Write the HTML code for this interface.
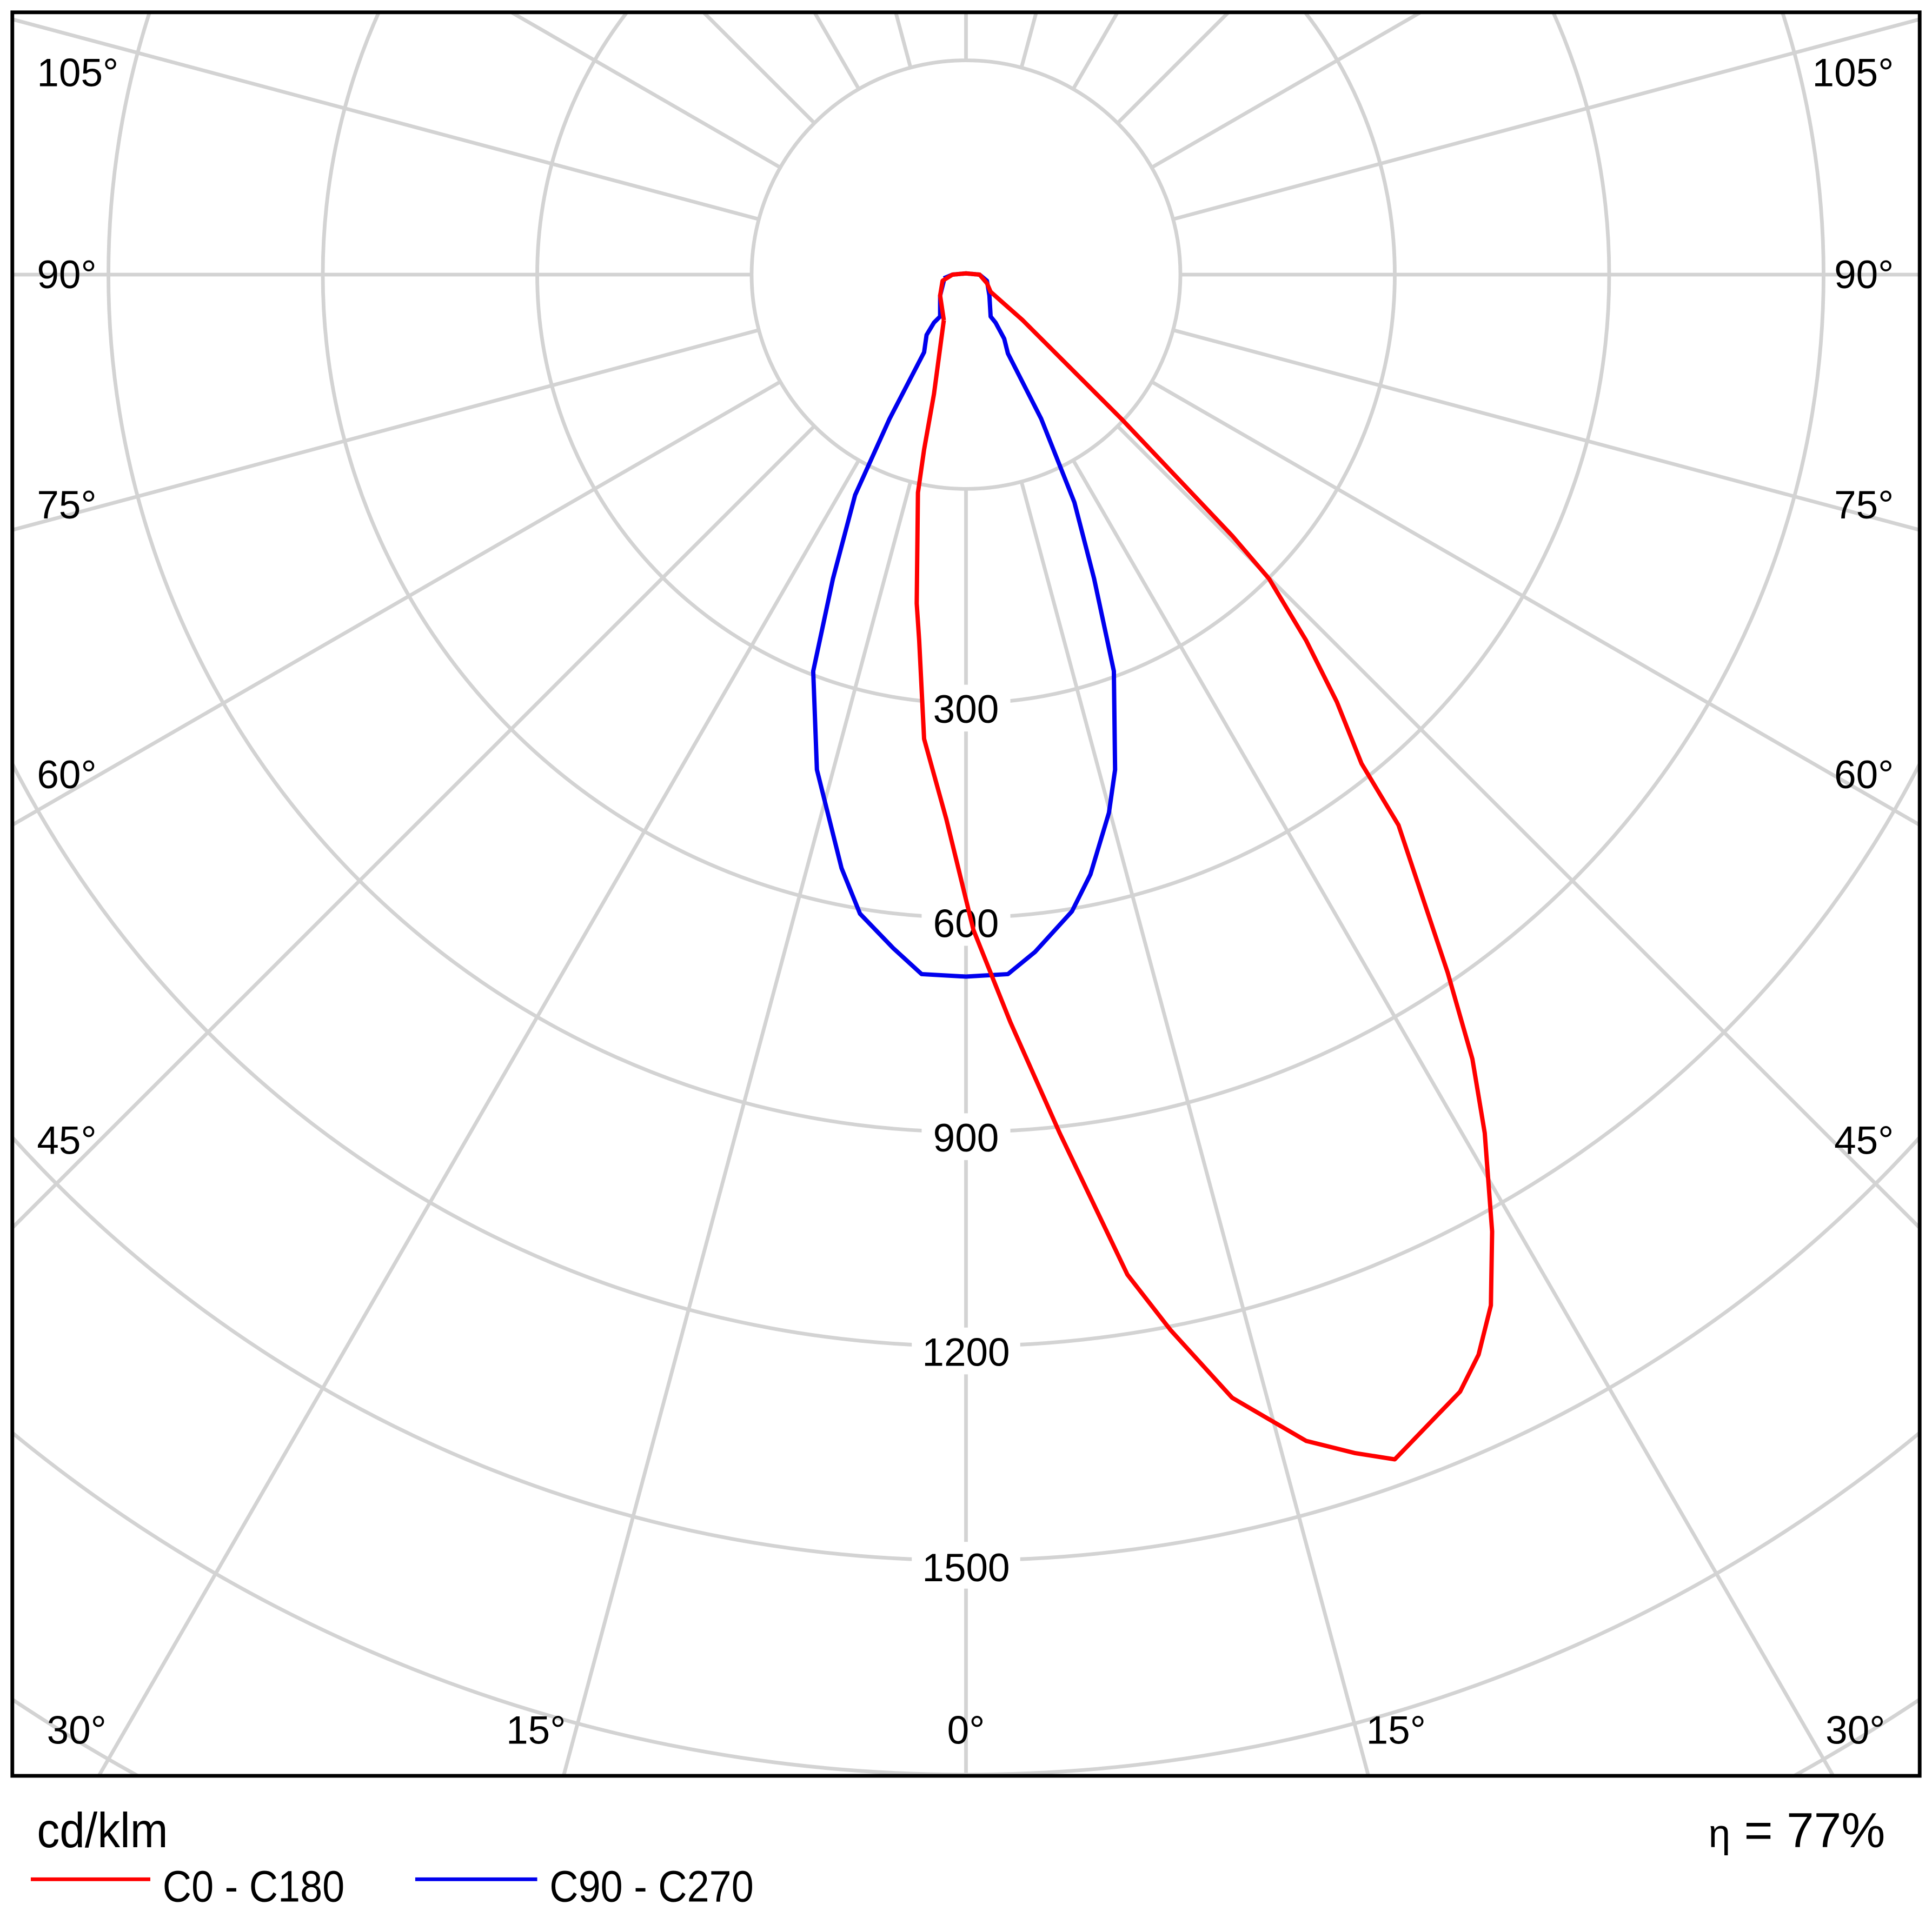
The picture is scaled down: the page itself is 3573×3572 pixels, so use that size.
<!DOCTYPE html>
<html><head><meta charset="utf-8"><style>
html,body{margin:0;padding:0;background:#fff;overflow:hidden;width:3573px;height:3572px;position:relative}
svg{display:block;position:absolute;left:0;top:0}
text{font-family:"Liberation Sans",sans-serif;fill:#000}
</style></head><body>
<svg width="3573" height="3572" viewBox="0 0 1568 1568" preserveAspectRatio="none" xmlns="http://www.w3.org/2000/svg">
<defs><clipPath id="c"><rect x="10" y="10" width="1548" height="1432"/></clipPath></defs>
<rect width="1568" height="1568" fill="#fff"/>
<g clip-path="url(#c)" stroke="#d3d3d3" stroke-width="3" fill="none">
<circle cx="784" cy="223" r="174"/>
<circle cx="784" cy="223" r="348"/>
<circle cx="784" cy="223" r="522"/>
<circle cx="784" cy="223" r="696"/>
<circle cx="784" cy="223" r="870"/>
<circle cx="784" cy="223" r="1044"/>
<circle cx="784" cy="223" r="1218"/>
<circle cx="784" cy="223" r="1392"/>
<circle cx="784" cy="223" r="1566"/>
<circle cx="784" cy="223" r="1740"/>
<line x1="784" y1="397" x2="784" y2="2223"/>
<line x1="829.0" y1="391.1" x2="1301.6" y2="2154.8"/>
<line x1="871.0" y1="373.7" x2="1784" y2="1955"/>
<line x1="907.0" y1="346.0" x2="2198" y2="1637"/>
<line x1="934.7" y1="310.0" x2="2516" y2="1223"/>
<line x1="952.1" y1="268.0" x2="2715.8" y2="740.6"/>
<line x1="958" y1="223" x2="2784" y2="223"/>
<line x1="952.1" y1="178.0" x2="2715.8" y2="-294.6"/>
<line x1="934.7" y1="136.0" x2="2516" y2="-777"/>
<line x1="907.0" y1="100.0" x2="2198" y2="-1191"/>
<line x1="871.0" y1="72.3" x2="1784" y2="-1509"/>
<line x1="829.0" y1="54.9" x2="1301.6" y2="-1708.8"/>
<line x1="784" y1="49" x2="784" y2="-1777"/>
<line x1="739.0" y1="54.9" x2="266.4" y2="-1708.8"/>
<line x1="697.0" y1="72.3" x2="-216" y2="-1509"/>
<line x1="661.0" y1="100.0" x2="-630" y2="-1191"/>
<line x1="633.3" y1="136.0" x2="-948" y2="-777"/>
<line x1="615.9" y1="178.0" x2="-1147.8" y2="-294.6"/>
<line x1="610" y1="223" x2="-1216" y2="223"/>
<line x1="615.9" y1="268.0" x2="-1147.8" y2="740.6"/>
<line x1="633.3" y1="310.0" x2="-948" y2="1223"/>
<line x1="661.0" y1="346.0" x2="-630" y2="1637"/>
<line x1="697.0" y1="373.7" x2="-216" y2="1955"/>
<line x1="739.0" y1="391.1" x2="266.4" y2="2154.8"/>
</g>
<g font-size="32">
<rect x="748" y="556" width="72" height="38" fill="#fff"/>
<rect x="748" y="730" width="72" height="38" fill="#fff"/>
<rect x="748" y="904" width="72" height="38" fill="#fff"/>
<rect x="740" y="1078" width="88" height="38" fill="#fff"/>
<rect x="740" y="1252" width="88" height="38" fill="#fff"/>
<text x="784" y="587" text-anchor="middle">300</text>
<text x="784" y="761" text-anchor="middle">600</text>
<text x="784" y="935" text-anchor="middle">900</text>
<text x="784" y="1109" text-anchor="middle">1200</text>
<text x="784" y="1284" text-anchor="middle">1500</text>
<text x="30" y="70">105°</text><text x="1537" y="70" text-anchor="end">105°</text>
<text x="30" y="234">90°</text><text x="1537" y="234" text-anchor="end">90°</text>
<text x="30" y="421">75°</text><text x="1537" y="421" text-anchor="end">75°</text>
<text x="30" y="640">60°</text><text x="1537" y="640" text-anchor="end">60°</text>
<text x="30" y="937">45°</text><text x="1537" y="937" text-anchor="end">45°</text>
<text x="38" y="1416">30°</text><text x="1530" y="1416" text-anchor="end">30°</text>
<text x="435" y="1416" text-anchor="middle">15°</text><text x="1133" y="1416" text-anchor="middle">15°</text>
<text x="784" y="1416" text-anchor="middle">0°</text>
</g>
<polyline fill="none" stroke="#0000ee" stroke-width="3.5" stroke-linejoin="round" points="766,226 773,223 784,222 795,223 801,228 803,240 804,257 808,262 815,275 818,287 845,340 872,408 888,470 904,545 905,625 900,660 885,710 870,740 840,773 818,791 784,793 748,791 725,770 698,742 683,705 663,625 660,545 676,470 694,402 722,340 750,286 752,272 758,262 763,257 763,240 766,228"/>
<polyline fill="none" stroke="#ff0000" stroke-width="3.5" stroke-linejoin="round" points="766,260 763,240 765,228 773,223 784,222 795,223 801,230 804,237 830,260 910,340 1000,435 1030,470 1060,520 1085,570 1105,620 1135,670 1175,790 1195,860 1205,920 1211,1000 1210,1060 1200,1100 1185,1130 1132,1185 1100,1180 1060,1170 1000,1135 950,1080 915,1035 860,920 820,830 790,755 768,665 750,600 746,520 744,490 745,400 750,365 758,320 766,260"/>
<rect x="10" y="10" width="1548" height="1432" fill="none" stroke="#000" stroke-width="3"/>
<text x="30" y="1500" font-size="40" transform="translate(30 0) scale(0.92 1) translate(-30 0)">cd/klm</text>
<line x1="25" y1="1526" x2="122" y2="1526" stroke="#ff0000" stroke-width="3"/>
<text x="132" y="1544" font-size="36" transform="translate(132 0) scale(0.9 1) translate(-132 0)">C0 - C180</text>
<line x1="337" y1="1526" x2="436" y2="1526" stroke="#0000ee" stroke-width="3"/>
<text x="446" y="1544" font-size="36" transform="translate(446 0) scale(0.9 1) translate(-446 0)">C90 - C270</text>
<text x="1530" y="1500" font-size="40" text-anchor="end"><tspan font-size="32">η</tspan> = 77%</text>
</svg>
</body></html>
